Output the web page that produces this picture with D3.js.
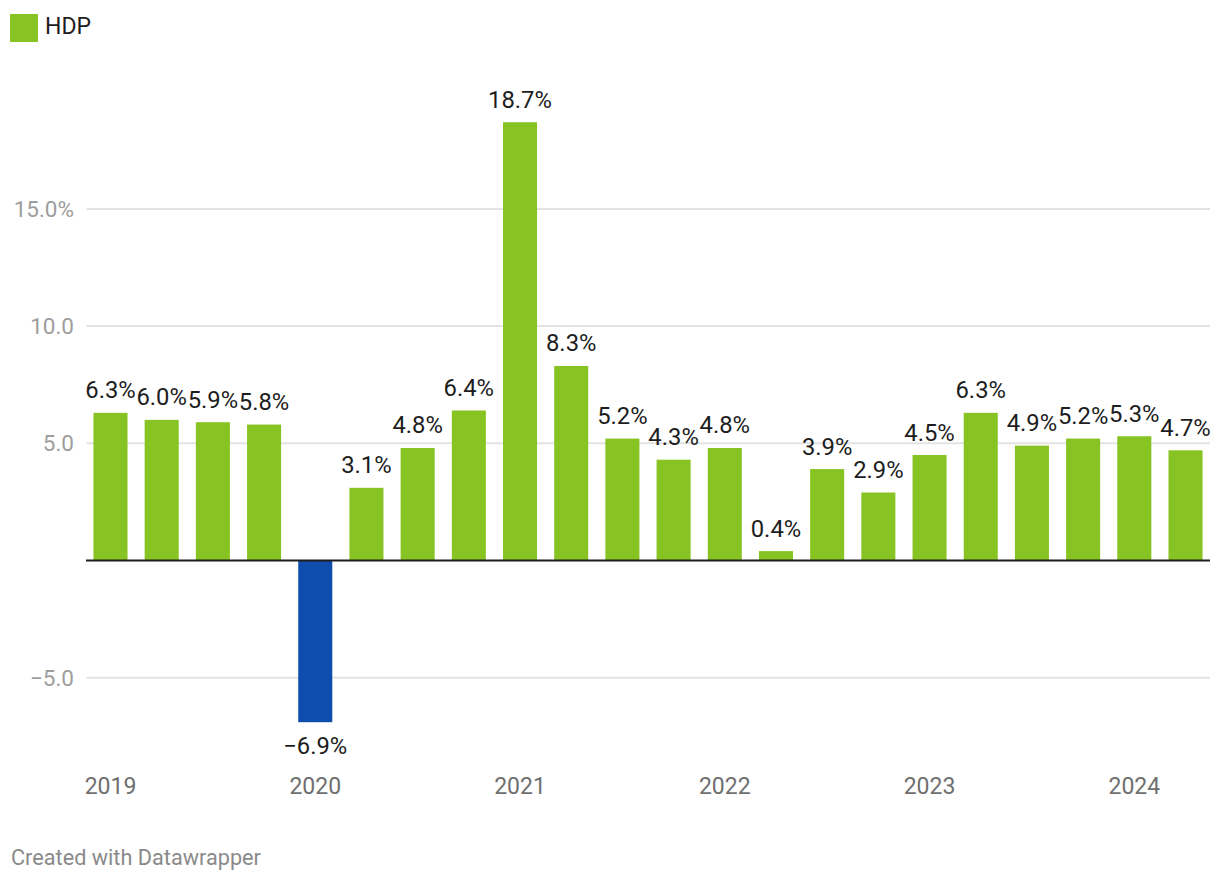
<!DOCTYPE html>
<html><head><meta charset="utf-8">
<script src="https://cdn.jsdelivr.net/npm/d3@7"></script>
<style>
html,body{margin:0;padding:0;background:#fff;}
svg{display:block;font-family:Roboto, "Noto Sans", sans-serif;}
</style></head>
<body>
<svg id="chart" width="1220" height="884"></svg>
<script>
const quarters = ["2019 Q1","2019 Q2","2019 Q3","2019 Q4","2020 Q1","2020 Q2","2020 Q3","2020 Q4","2021 Q1","2021 Q2","2021 Q3","2021 Q4","2022 Q1","2022 Q2","2022 Q3","2022 Q4","2023 Q1","2023 Q2","2023 Q3","2023 Q4","2024 Q1","2024 Q2"];
const values = [6.3,6.0,5.9,5.8,-6.9,3.1,4.8,6.4,18.7,8.3,5.2,4.3,4.8,0.4,3.9,2.9,4.5,6.3,4.9,5.2,5.3,4.7];
const yTicks = [-5,5,10,15];
const yTickLabels = ["−5.0","5.0","10.0","15.0%"];
const yearTicks = ["2019 Q1","2020 Q1","2021 Q1","2022 Q1","2023 Q1","2024 Q1"];
const yearLabels = ["2019","2020","2021","2022","2023","2024"];
const seriesName = "HDP";
const footer = "Created with Datawrapper";

const svg = d3.select("#chart");
const green = "#87c423", blue = "#0e4dad";

const x = d3.scaleBand().domain(quarters).range([86, 1210]).paddingInner(0.335).paddingOuter(0.146);
const y = d3.scaleLinear().domain([-6.9, 18.7]).range([722.2, 122.2]);

// legend
svg.append("rect").attr("x",10).attr("y",14).attr("width",28).attr("height",28).attr("fill",green);
svg.append("text").attr("x",45).attr("y",33.5).attr("font-size",23).attr("fill","#1d1d1d").text(seriesName);

// gridlines
const grid = svg.append("g");
grid.selectAll("line").data(yTicks).join("line")
  .attr("x1",86.5).attr("x2",1210).attr("y1",d=>y(d)).attr("y2",d=>y(d))
  .attr("stroke","#e3e3e3").attr("stroke-width",2);
grid.selectAll("text").data(yTicks).join("text")
  .attr("x",74).attr("y",d=>y(d)).attr("dy","0.36em").attr("text-anchor","end")
  .attr("font-size",22.5).attr("fill","#9d9d9d")
  .text((d,i)=>yTickLabels[i]);

// bars
svg.append("g").selectAll("rect").data(values).join("rect")
  .attr("x",(d,i)=>x(quarters[i])).attr("width",x.bandwidth())
  .attr("y",d=>y(Math.max(0,d))).attr("height",d=>Math.abs(y(d)-y(0)))
  .attr("fill",d=>d<0?blue:green);

// zero line
svg.append("line").attr("x1",86).attr("x2",1210).attr("y1",y(0)).attr("y2",y(0))
  .attr("stroke","#1d1d1d").attr("stroke-width",2);

// value labels
svg.append("g").selectAll("text").data(values).join("text")
  .attr("x",(d,i)=>x(quarters[i])+x.bandwidth()/2)
  .attr("y",d=>d>=0 ? y(d)-14.5 : y(d)+31.5)
  .attr("text-anchor","middle").attr("font-size",23.8).attr("fill","#1d1d1d")
  .text(d=>(d<0?"−":"")+Math.abs(d).toFixed(1)+"%");

// year axis
svg.append("g").selectAll("text").data(yearTicks).join("text")
  .attr("x",d=>x(d)+x.bandwidth()/2).attr("y",794)
  .attr("text-anchor","middle").attr("font-size",23).attr("fill","#6f6f6f")
  .text((d,i)=>yearLabels[i]);

// footer
svg.append("text").attr("x",11).attr("y",865).attr("font-size",21.7).attr("fill","#8a8a8a").text(footer);
</script>
</body></html>
